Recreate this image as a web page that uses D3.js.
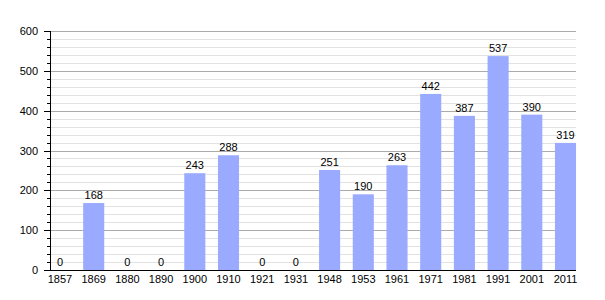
<!DOCTYPE html>
<html lang="en">
<head>
  <meta charset="UTF-8">
  <title>Population</title>
  <script src="https://d3js.org/d3.v7.min.js"></script>
  <style>
    body { margin: 0; padding: 0; background: #fff; }
    svg text { font-family: "Liberation Sans", Arial, sans-serif; font-size: 11px; fill: #000; }
  </style>
</head>
<body>
  <div id="chart"></div>
  <script>
    const years = ["1857", "1869", "1880", "1890", "1900", "1910", "1921", "1931",
                   "1948", "1953", "1961", "1971", "1981", "1991", "2001", "2011"];
    const population = [0, 168, 0, 0, 243, 288, 0, 0, 251, 190, 263, 442, 387, 537, 390, 319];
    const majorTicks = [0, 100, 200, 300, 400, 500, 600];

    const width = 605, height = 300;
    const plotLeft = 50, plotRight = 576, plotTop = 31, plotBottom = 270;

    const svg = d3.select("#chart").append("svg")
      .attr("width", width)
      .attr("height", height);

    const y = d3.scaleLinear().domain([0, 600]).range([plotBottom, plotTop]);
    const x = d3.scaleBand()
      .domain(years)
      .range([43.15, 582.35])
      .paddingInner(0.375)
      .paddingOuter(0.1875);

    // minor gridlines every 20
    const minor = d3.range(20, 601, 20).filter(v => v % 100 !== 0);
    svg.append("g").selectAll("line")
      .data(minor)
      .join("line")
      .attr("x1", plotLeft).attr("x2", plotRight)
      .attr("y1", d => Math.round(y(d)) + 0.5)
      .attr("y2", d => Math.round(y(d)) + 0.5)
      .attr("stroke", "#e2e2e2");

    // major gridlines
    svg.append("g").selectAll("line")
      .data(majorTicks.filter(v => v > 0))
      .join("line")
      .attr("x1", plotLeft).attr("x2", plotRight)
      .attr("y1", d => Math.round(y(d)) + 0.5)
      .attr("y2", d => Math.round(y(d)) + 0.5)
      .attr("stroke", "#ababab");

    // bars
    svg.append("g").selectAll("rect")
      .data(population)
      .join("rect")
      .attr("x", (d, i) => x(years[i]))
      .attr("width", x.bandwidth())
      .attr("y", d => y(d))
      .attr("height", d => y(0) - y(d))
      .attr("fill", "#99aaff");

    // value labels
    svg.append("g").selectAll("text")
      .data(population)
      .join("text")
      .attr("x", (d, i) => x(years[i]) + x.bandwidth() / 2)
      .attr("y", d => y(d) - 4)
      .attr("text-anchor", "middle")
      .text(d => d);

    // y axis with minor ticks
    const yAxis = svg.append("g");
    yAxis.append("line")
      .attr("x1", plotLeft + 0.5).attr("x2", plotLeft + 0.5)
      .attr("y1", plotTop).attr("y2", plotBottom)
      .attr("stroke", "#000");
    yAxis.selectAll("line.minor")
      .data(minor)
      .join("line")
      .attr("class", "minor")
      .attr("x1", plotLeft - 3).attr("x2", plotLeft)
      .attr("y1", d => Math.round(y(d)) + 0.5)
      .attr("y2", d => Math.round(y(d)) + 0.5)
      .attr("stroke", "#000");
    yAxis.selectAll("line.major")
      .data(majorTicks)
      .join("line")
      .attr("class", "major")
      .attr("x1", plotLeft - 6).attr("x2", plotLeft)
      .attr("y1", d => Math.round(y(d)) + 0.5)
      .attr("y2", d => Math.round(y(d)) + 0.5)
      .attr("stroke", "#000");
    yAxis.selectAll("text")
      .data(majorTicks)
      .join("text")
      .attr("x", plotLeft - 12)
      .attr("y", d => y(d) + 4)
      .attr("text-anchor", "end")
      .text(d => d);

    // x baseline and labels
    svg.append("line")
      .attr("x1", plotLeft - 6).attr("x2", plotRight)
      .attr("y1", plotBottom + 0.5).attr("y2", plotBottom + 0.5)
      .attr("stroke", "#000");
    svg.append("g").selectAll("text")
      .data(years)
      .join("text")
      .attr("x", d => x(d) + x.bandwidth() / 2)
      .attr("y", plotBottom + 13)
      .attr("text-anchor", "middle")
      .text(d => d);
  </script>
</body>
</html>
